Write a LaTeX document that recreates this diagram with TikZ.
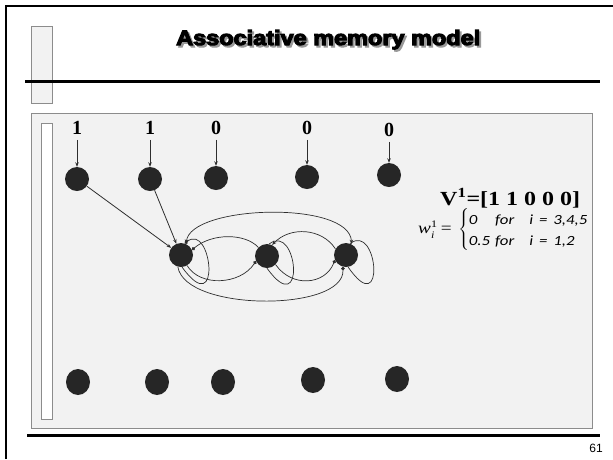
\documentclass[tikz,border=0pt]{standalone}
\usepackage{fontspec}
\setmainfont{Liberation Serif}
\newfontfamily\titlefont{Liberation Sans}[BoldFeatures={FakeBold=5}]
\newfontfamily\calib{Carlito}
\newfontfamily\pagefont{Liberation Sans}
\usetikzlibrary{arrows.meta,shapes.geometric}
\definecolor{panelgray}{HTML}{F2F2F2}
\definecolor{edgegray}{HTML}{8C8C8C}
\definecolor{neuron}{HTML}{262626}
\definecolor{wire}{HTML}{2E2E2E}

\begin{document}
\begin{tikzpicture}[x=1pt,y=-1pt,
  >={Stealth[length=4.5pt,width=3.5pt]},
  neuronnode/.style={circle,fill=neuron,minimum size=24pt,inner sep=0pt},
  outnode/.style={ellipse,fill=neuron,minimum width=24pt,minimum height=26pt,inner sep=0pt},
  bitlabel/.style={font=\fontsize{20}{24}\selectfont\bfseries,inner sep=0pt},
  feed/.style={wire,line width=0.8pt,->},
  link/.style={wire,line width=0.7pt},
  dotstart/.style={arrows={Circle[length=3.5pt]-}},
  dotend/.style={arrows={-Circle[length=3.5pt]}},
  rule/.style={line width=3pt,black}]

% page area
\useasboundingbox (0,0) rectangle (613,459);
\fill[white] (0,0) rectangle (613,459);

% slide frame
\draw[line width=2.5pt,black] (6,459) -- (6,6) -- (613,6);

% small tab at the upper left
\filldraw[fill=panelgray,draw=edgegray,line width=0.8pt] (31,26) rectangle (52,103);

% title with its shadow
\node[anchor=base west,inner sep=0pt,text=gray!80] (titleshadow) at (178,47)
  {\resizebox{304pt}{15pt}{\titlefont\bfseries Associative memory model}};
\node[anchor=base west,inner sep=0pt] (title) at (176,45)
  {\resizebox{304pt}{15pt}{\titlefont\bfseries Associative memory model}};

\draw[rule] (25,81.5) -- (600,81.5);

% content panel
\filldraw[fill=panelgray,draw=edgegray,line width=0.8pt] (31,113) rectangle (592,428);
\filldraw[fill=white,draw=edgegray,line width=0.8pt] (41,123) rectangle (52,419);

\draw[rule] (27,435) -- (600,435);
\node[anchor=base east,inner sep=0pt,font=\pagefont\fontsize{12}{14}\selectfont] (pagenum) at (603,452) {61};

% input bits
\node[bitlabel] (b1) at (77,128) {1};
\node[bitlabel] (b2) at (150,128) {1};
\node[bitlabel] (b3) at (216,128) {0};
\node[bitlabel] (b4) at (307,128) {0};
\node[bitlabel] (b5) at (389,130) {0};

% input layer
\node[neuronnode] (n1) at (77,179) {};
\node[neuronnode] (n2) at (150,179) {};
\node[neuronnode] (n3) at (216,178) {};
\node[neuronnode] (n4) at (307,177) {};
\node[neuronnode] (n5) at (389,175) {};

\foreach \i in {1,...,5} \draw[feed,shorten <=5pt] (b\i) -- (n\i);

% associative units
\node[neuronnode] (A) at (181,255) {};
\node[neuronnode] (B) at (267,256) {};
\node[neuronnode] (C) at (346,255) {};

\draw[feed] (n1) -- (A);
\draw[feed] (n2) -- (A);

% recurrent links
\draw[link,<->] (A.65) .. controls (190,205) and (350,200) .. (C.63);
\draw[link,dotstart] (A.25) .. controls (212,233) and (245,233) .. (B.135);
\draw[link,dotend] (A.-60) .. controls (200,287) and (240,285) .. (B.205);
\draw[link,<-] (B.65) .. controls (290,226) and (322,228) .. (C.150);
\draw[link,dotend] (B.-45) .. controls (292,288) and (325,285) .. (C.205);
\draw[link,dotend] (A.-105) .. controls (185,312) and (345,312) .. (C.-105);

% self loops
\draw[link,dotstart] (A.72) .. controls (212,222) and (222,322) .. (A.-85);
\draw[link] (B.80) .. controls (298,222) and (306,322) .. (B.-90);
\draw[link] (C.70) .. controls (378,222) and (386,322) .. (C.-80);

% output layer
\node[outnode] (o1) at (78,382) {};
\node[outnode] (o2) at (157,382) {};
\node[outnode] (o3) at (223,382) {};
\node[outnode] (o4) at (313,380) {};
\node[outnode] (o5) at (397,379) {};

% stored pattern and weights
\node[anchor=base west,inner sep=0pt,font=\fontsize{20}{24}\selectfont\bfseries] (pattern) at (440,205)
  {\scalebox{1.2}[1]{V\textsuperscript{1}=[1 1 0 0 0]}};
\node[anchor=west,inner sep=0pt,font=\fontsize{16}{20}\selectfont] (weights) at (418,230)
  {\scalebox{1.2}[1]{$\mbox{\itshape w}_{\mbox{\fontsize{10}{12}\selectfont\itshape i}}^{\mbox{\fontsize{10}{12}\selectfont 1}}\mbox{\,=\,}\left\{\mbox{\fontsize{14}{21}\selectfont
    \begin{tabular}{@{}l@{\hspace{4pt}}l@{}}
    {\calib\itshape 0} & {\calib\itshape for\hspace{0.9em}i\hspace{0.35em}=\hspace{0.35em}3,4,5}\\
    {\calib\itshape 0.5} & {\calib\itshape for\hspace{0.9em}i\hspace{0.35em}=\hspace{0.35em}1,2}
    \end{tabular}}\right.$}};
\end{tikzpicture}
\end{document}
